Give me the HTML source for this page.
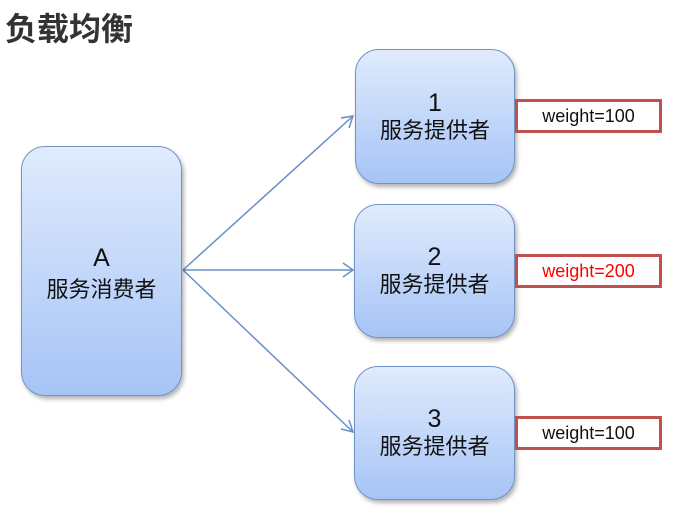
<!DOCTYPE html>
<html><head><meta charset="utf-8"><style>
body{margin:0;width:674px;height:523px;background:#fff;position:relative;overflow:hidden;font-family:"Liberation Sans","Noto Sans CJK SC",sans-serif}
.t{position:absolute;left:5px;top:4px;font-size:32px;font-weight:bold;color:#333}
.b{position:absolute;border:1.5px solid #6f93c4;border-radius:24px;background:linear-gradient(#e0ebfd,#a6c4f6);box-shadow:2px 3px 4px rgba(0,0,0,.3);text-align:center;color:#111;box-sizing:border-box;display:flex;flex-direction:column;justify-content:center}
.b .n{font-size:25px;line-height:28px}
.b .l{font-size:22px;line-height:28px}
.w{position:absolute;left:515px;width:147px;height:34px;border:3px solid #c0504d;box-sizing:border-box;font-size:18px;line-height:28px;text-align:center;background:#fff;color:#111}
</style></head><body>
<div class="t">负载均衡</div>
<svg style="position:absolute;left:0;top:0" width="674" height="523">
<g stroke="#6a8fc4" stroke-width="1.5" fill="none">
<line x1="183" y1="270" x2="353" y2="116"/>
<line x1="183" y1="270" x2="353" y2="270"/>
<line x1="183" y1="270" x2="353" y2="432"/>
<polyline points="341,118 353,116 349,128"/>
<polyline points="343,263 353,270 343,277"/>
<polyline points="349,420 353,432 341,429"/>
</g></svg>
<div class="b" style="left:21px;top:146px;width:161px;height:250px;padding-top:6px"><div class="n" style="line-height:32px">A</div><div class="l" style="line-height:32px">服务消费者</div></div>
<div class="b" style="left:355px;top:49px;width:160px;height:135px"><div class="n">1</div><div class="l">服务提供者</div></div>
<div class="b" style="left:354px;top:204px;width:161px;height:134px"><div class="n">2</div><div class="l">服务提供者</div></div>
<div class="b" style="left:354px;top:366px;width:161px;height:134px"><div class="n">3</div><div class="l">服务提供者</div></div>
<div class="w" style="top:99px">weight=100</div>
<div class="w" style="top:254px;color:#f00">weight=200</div>
<div class="w" style="top:416px">weight=100</div>
</body></html>
